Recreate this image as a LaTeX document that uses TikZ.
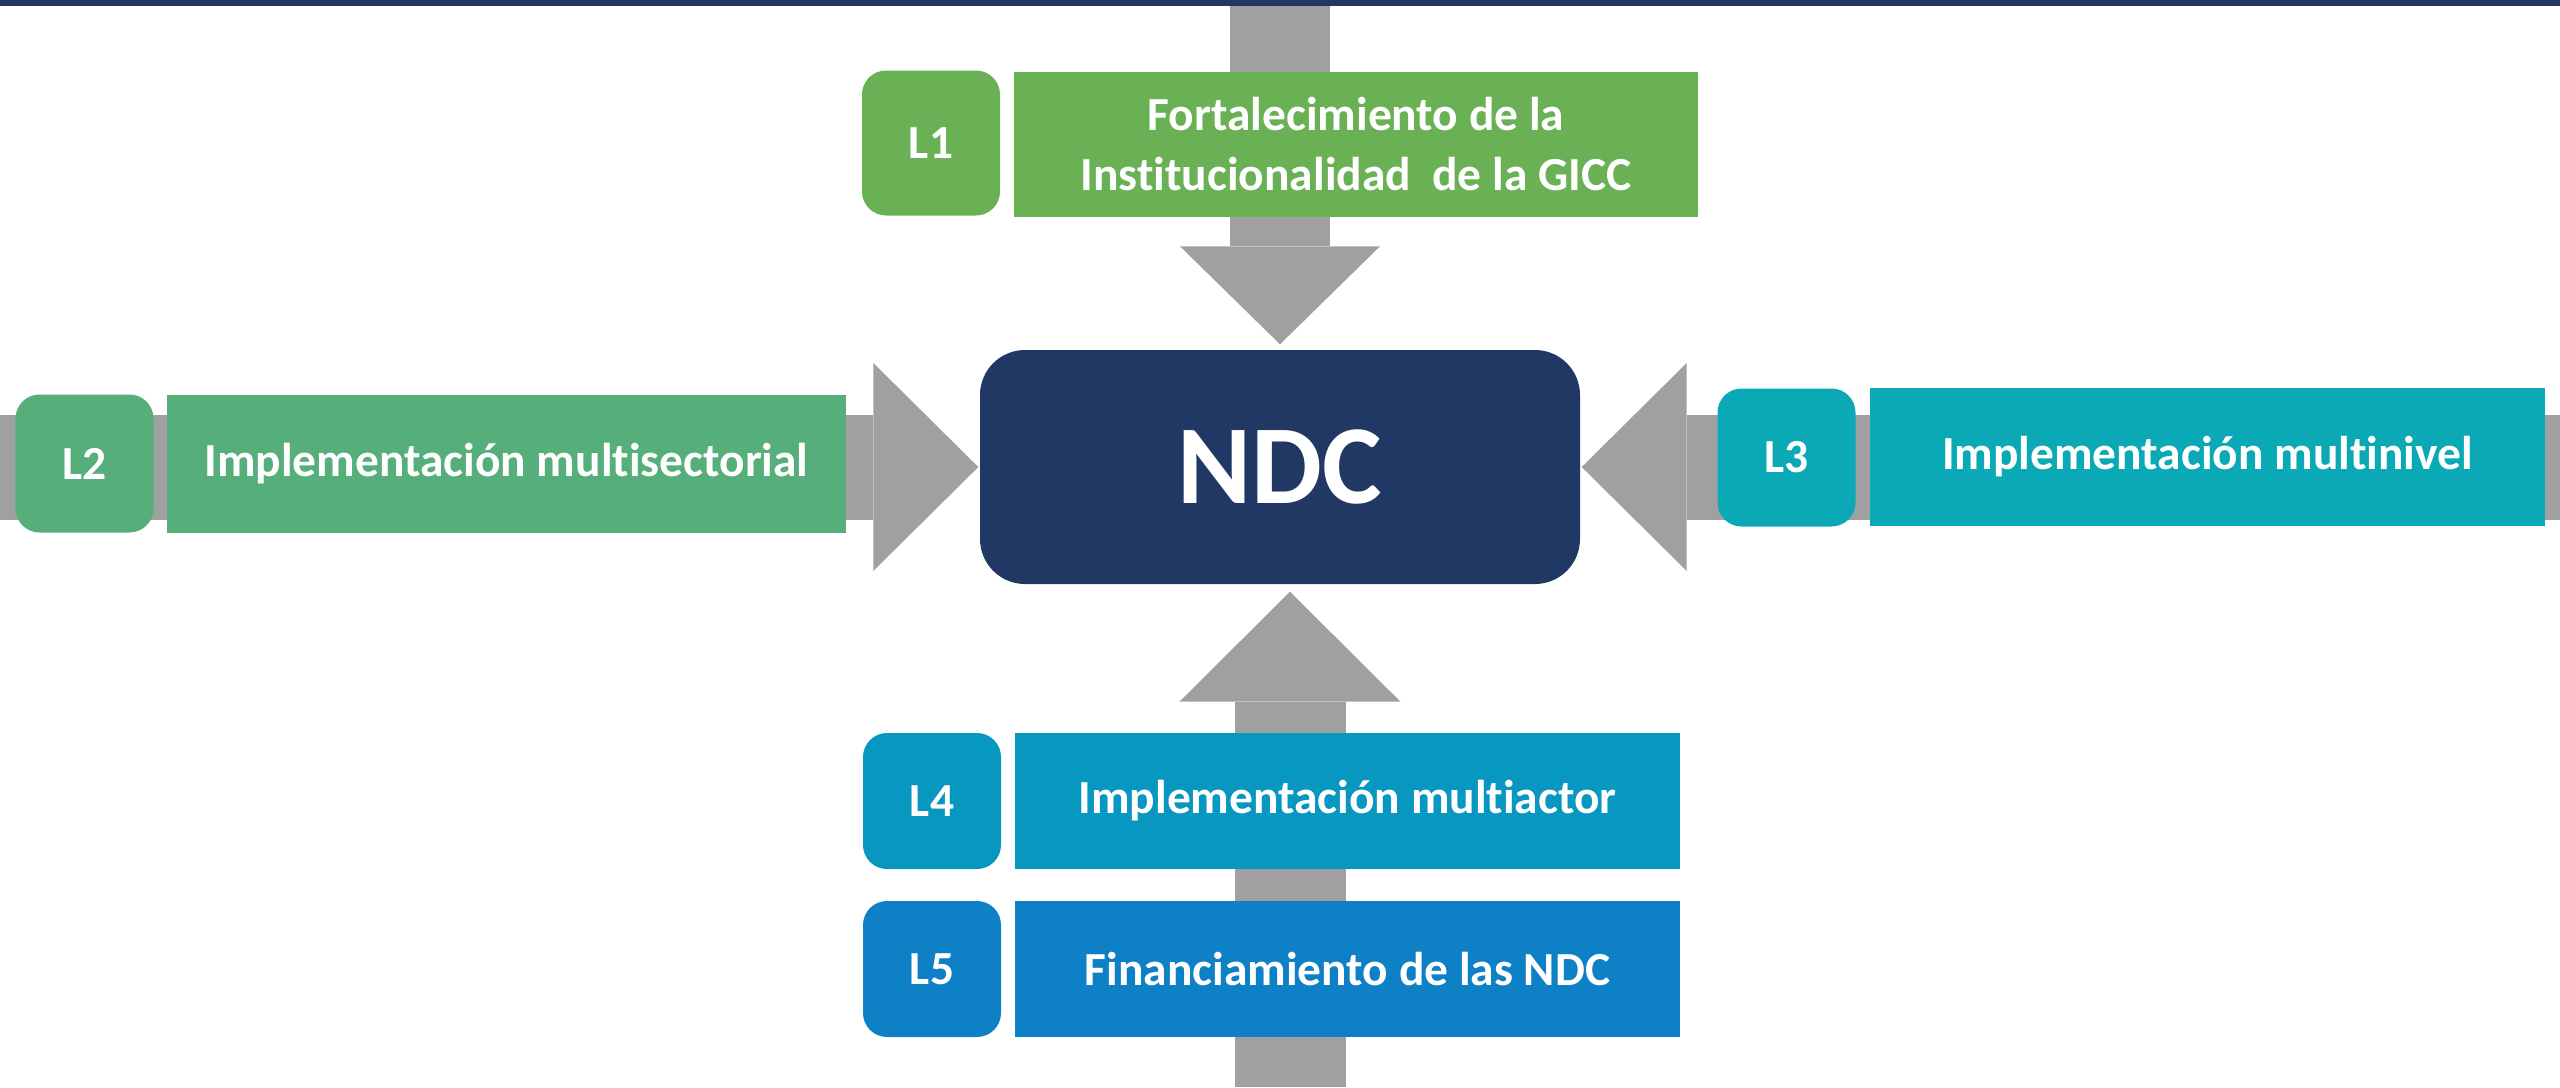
\documentclass[tikz,border=0pt]{standalone}
\usepackage{fontspec}
\setmainfont{Carlito}[Ligatures=NoCommon]
\usepackage{tikz}
\usetikzlibrary{calc,arrows.meta}
\definecolor{ndcblue}{HTML}{213864}
\definecolor{arrowgray}{HTML}{A0A0A0}
\definecolor{lgreen}{HTML}{6AB155}
\definecolor{lsea}{HTML}{56AF7B}
\definecolor{lteal}{HTML}{0AA9B5}
\definecolor{lcyan}{HTML}{0797C0}
\definecolor{lblue}{HTML}{0D80C6}
\newcommand{\lfont}{\fontsize{13.5}{17.2}\selectfont\bfseries}

\begin{document}
\begin{tikzpicture}[
		badge/.style={rounded corners=0.24cm, minimum width=1.38cm, minimum height=1.38cm, inner sep=0pt, text=white, font=\lfont},
		line/.style={minimum width=6.7cm, minimum height=1.38cm, inner sep=0pt, text=white, align=center, font=\lfont},
		bigarrow/.style={draw=arrowgray, line width=#1}
	]
			\useasboundingbox (0,0) rectangle (25.6,10.87);
			\fill[ndcblue]	(0,10.81)	rectangle (25.6,10.87);
			%
			\node[fill=ndcblue, rounded corners=0.45cm, minimum width=6cm, minimum height=2.34cm, text=white, font=\fontsize{32}{38}\selectfont\bfseries] (ndc) at (12.8,6.2) {NDC};
			%
			\coordinate (topend)	at	(12.8, 10.81);
			\coordinate (leftend)	at	(0, 6.2);
			\coordinate (rightend)	at	(25.6, 6.2);
			\coordinate (botend)	at	(12.9, 0);
			\draw[bigarrow=1cm, -{Triangle[length=0.98cm, width=2cm, line width=0pt]}, shorten >=0.05cm] (topend) -- (ndc);
			\draw[bigarrow=1.05cm, -{Triangle[length=1.05cm, width=2.08cm, line width=0pt]}, shorten >=0.01cm] (leftend) -- (ndc);
			\draw[bigarrow=1.05cm, -{Triangle[length=1.05cm, width=2.08cm, line width=0pt]}, shorten >=0.01cm] (rightend) -- (ndc);
			\draw[bigarrow=1.11cm, -{Triangle[length=1.1cm, width=2.21cm, line width=0pt]}, shorten >=0.07cm] (botend) -- (botend |- ndc.south);
			%
			\node[badge, fill=lgreen, minimum height=1.45cm]	(l1)	at	(9.31, 9.44)	{L1};
			\node[line, fill=lgreen, minimum width=6.84cm, minimum height=1.45cm]	(t1)	at	(13.56, 9.43)	{Fortalecimiento de la\\Institucionalidad\ \ de la GICC};
			\node[badge, fill=lsea]	(l2)	at	(0.845, 6.235)	{L2};
			\node[line, fill=lsea, minimum width=6.79cm]	(t2)	at	(5.065, 6.235)	{Implementación multisectorial};
			\node[badge, fill=lteal]	(l3)	at	(17.865, 6.295)	{L3};
			\node[line, fill=lteal, minimum width=6.75cm]	(t3)	at	(22.075, 6.3)	{Implementación multinivel};
			\node[badge, fill=lcyan, minimum height=1.36cm]	(l4)	at	(9.32, 2.86)	{L4};
			\node[line, fill=lcyan, minimum width=6.65cm, minimum height=1.36cm]	(t4)	at	(13.475, 2.86)	{Implementación multiactor};
			\node[badge, fill=lblue, minimum height=1.36cm]	(l5)	at	(9.32, 1.18)	{L5};
			\node[line, fill=lblue, minimum width=6.65cm, minimum height=1.36cm]	(t5)	at	(13.475, 1.18)	{Financiamiento de las NDC};
\end{tikzpicture}
\end{document}
